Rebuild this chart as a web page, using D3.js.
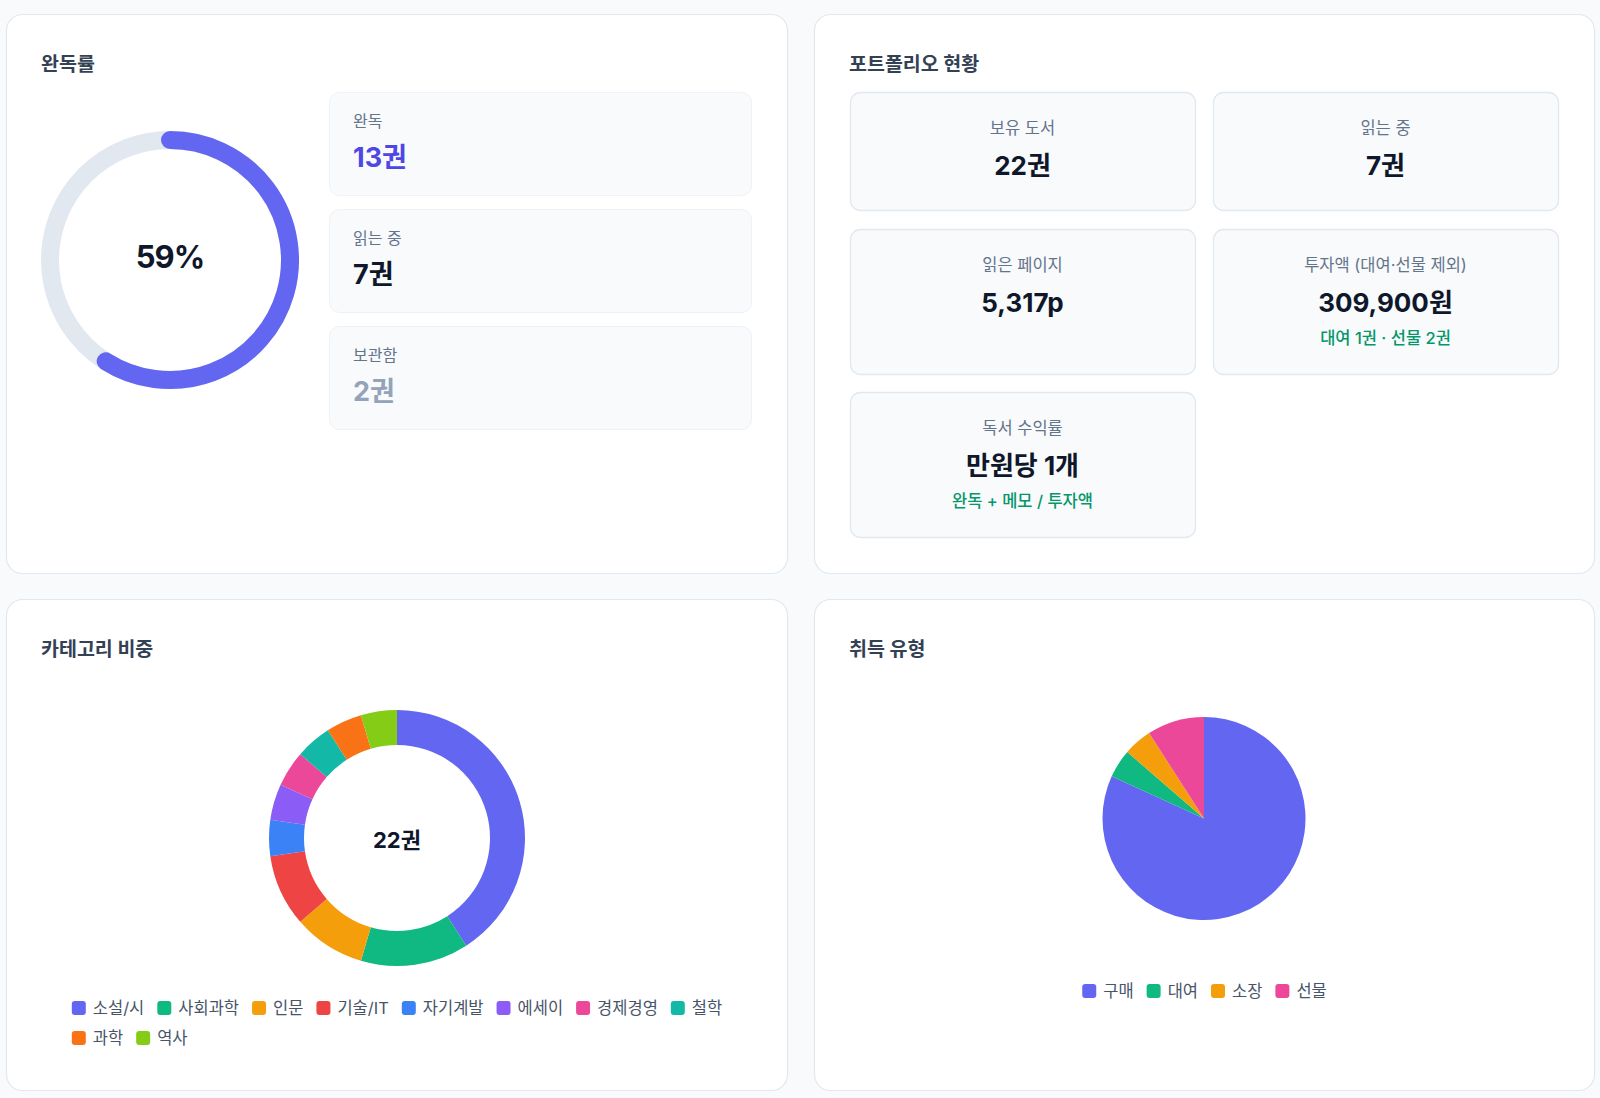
<!DOCTYPE html>
<html lang="ko">
<head>
<meta charset="utf-8">
<script src="https://cdn.jsdelivr.net/npm/d3@7"></script>
<style>
  html, body { margin: 0; padding: 0; background: #f8fafc; }
  svg { display: block; font-family: Inter, "Noto Sans CJK KR", "Noto Sans", sans-serif; }
</style>
</head>
<body>
<div id="dash"></div>
<script>
const W = 1600;
const H = 1098;

// reading status (완독률 card)
const statusLabels = ["완독", "읽는 중", "보관함"];
const statusCounts = [13, 7, 2];
const statusColors = ["#4f46e5", "#0f172a", "#94a3b8"];
const totalBooks = 22;

// portfolio boxes
const portfolioLabels = ["보유 도서", "읽는 중", "읽은 페이지", "투자액 (대여·선물 제외)", "독서 수익률"];
const portfolioValues = ["22권", "7권", "5,317p", "309,900원", "만원당 1개"];
const portfolioNotes = ["", "", "", "대여 1권 · 선물 2권", "완독 + 메모 / 투자액"];

// category share
const categoryNames = ["소설/시", "사회과학", "인문", "기술/IT", "자기계발", "에세이", "경제경영", "철학", "과학", "역사"];
const categoryCounts = [9, 3, 2, 2, 1, 1, 1, 1, 1, 1];
const categoryColors = ["#6366f1", "#10b981", "#f59e0b", "#ef4444", "#3b82f6", "#8b5cf6", "#ec4899", "#14b8a6", "#f97316", "#84cc16"];

// acquisition type
const acquireNames = ["구매", "대여", "소장", "선물"];
const acquireCounts = [18, 1, 1, 2];
const acquireColors = ["#6366f1", "#10b981", "#f59e0b", "#ec4899"];

const svg = d3.select("#dash").append("svg").attr("width", W).attr("height", H);
svg.append("rect").attr("width", W).attr("height", H).attr("fill", "#f8fafc");

// cards
const cards = [
    {x: 6, y: 14, w: 782, h: 560, title: "완독률"},
    {x: 814, y: 14, w: 781, h: 560, title: "포트폴리오 현황"},
    {x: 6, y: 599, w: 782, h: 492, title: "카테고리 비중"},
    {x: 814, y: 599, w: 781, h: 492, title: "취득 유형"}
];

const card = svg.selectAll("g.card")
    .data(cards)
    .enter().append("g")
    .attr("class", "card")
    .attr("transform", d => "translate(" + [d.x, d.y] + ")");

card.append("rect")
    .attr("x", 0.5).attr("y", 0.5)
    .attr("width", d => d.w - 1).attr("height", d => d.h - 1)
    .attr("rx", 16)
    .attr("fill", "#fff")
    .attr("stroke", "#e2e8f0")
    .attr("stroke-width", 1.2);

card.append("text")
    .attr("x", 35).attr("y", 50)
    .attr("dominant-baseline", "central")
    .attr("font-size", 19.5).attr("font-weight", 700)
    .attr("fill", "#334155")
    .text(d => d.title);

// ---- 완독률 gauge
const rate = Math.round(statusCounts[0] / totalBooks * 100);
const angle = d3.scaleLinear().domain([0, 100]).range([-Math.PI / 2, 1.5 * Math.PI]);
const gauge = svg.append("g").attr("transform", "translate(170,260)");

gauge.append("circle")
    .attr("r", 120)
    .attr("fill", "none")
    .attr("stroke", "#e2e8f0")
    .attr("stroke-width", 18);

const p = d3.path();
p.arc(0, 0, 120, angle(0), angle(rate));
gauge.append("path")
    .attr("d", p.toString())
    .attr("fill", "none")
    .attr("stroke", "#6366f1")
    .attr("stroke-width", 18)
    .attr("stroke-linecap", "round");

gauge.append("text")
    .attr("text-anchor", "middle").attr("dominant-baseline", "central")
    .attr("y", -4)
    .attr("font-size", 31).attr("font-weight", 700)
    .attr("letter-spacing", -1)
    .attr("fill", "#0f172a")
    .text(rate + "%");

// status boxes
const statusBox = svg.selectAll("g.status")
    .data(statusLabels)
    .enter().append("g")
    .attr("class", "status")
    .attr("transform", (d, i) => "translate(" + [329, 92 + i * 117] + ")");

statusBox.append("rect")
    .attr("x", 0.5).attr("y", 0.5)
    .attr("width", 422).attr("height", 103)
    .attr("rx", 10)
    .attr("fill", "#f8fafc").attr("stroke", "#eef2f6");
statusBox.append("text")
    .attr("x", 24).attr("y", 29)
    .attr("dominant-baseline", "central")
    .attr("font-size", 16).attr("fill", "#64748b")
    .text(d => d);
statusBox.append("text")
    .attr("x", 24).attr("y", 65)
    .attr("dominant-baseline", "central")
    .attr("font-size", 27).attr("font-weight", 700)
    .attr("fill", (d, i) => statusColors[i])
    .text((d, i) => statusCounts[i] + "권");

// ---- portfolio grid
const cols = [850, 1213];
const rows = [{y: 92, h: 118}, {y: 229, h: 145}, {y: 392, h: 145}];
const pBox = svg.selectAll("g.pbox")
    .data(portfolioLabels)
    .enter().append("g")
    .attr("class", "pbox")
    .attr("transform", (d, i) => "translate(" + [cols[i % 2], rows[Math.floor(i / 2)].y] + ")");

pBox.append("rect")
    .attr("x", 0.5).attr("y", 0.5)
    .attr("width", 345).attr("height", (d, i) => rows[Math.floor(i / 2)].h)
    .attr("rx", 10)
    .attr("fill", "#f8fafc").attr("stroke", "#e2e8f0").attr("stroke-width", 1.3);
pBox.append("text")
    .attr("x", 172.5).attr("y", 36)
    .attr("text-anchor", "middle").attr("dominant-baseline", "central")
    .attr("font-size", 16.5).attr("fill", "#64748b")
    .text(d => d);
pBox.append("text")
    .attr("x", 172.5).attr("y", 73)
    .attr("text-anchor", "middle").attr("dominant-baseline", "central")
    .attr("font-size", 26).attr("font-weight", 700).attr("fill", "#0f172a")
    .text((d, i) => portfolioValues[i]);
pBox.append("text")
    .attr("x", 172.5).attr("y", 109)
    .attr("text-anchor", "middle").attr("dominant-baseline", "central")
    .attr("font-size", 16.5).attr("font-weight", 500).attr("fill", "#059669")
    .text((d, i) => portfolioNotes[i]);

// ---- legend helper (wraps, rows start at the same x, first row centered)
function legend(names, colors, cx, y0, maxW) {
    const g = svg.append("g");
    const items = g.selectAll("g").data(names).enter().append("g");
    items.append("rect")
        .attr("width", 14).attr("height", 14).attr("rx", 3)
        .attr("y", -7)
        .attr("fill", (d, i) => colors[i]);
    items.append("text")
        .attr("x", 21)
        .attr("dominant-baseline", "central")
        .attr("font-size", 16.5).attr("fill", "#475569")
        .text(d => d);

    const widths = [];
    items.each(function() { widths.push(21 + d3.select(this).select("text").node().getComputedTextLength()); });

    const lines = [[]];
    let lineW = 0;
    widths.forEach((w, i) => {
        const add = lineW === 0 ? w : lineW + 13 + w;
        if (add > maxW && lineW > 0) { lines.push([i]); lineW = w; }
        else { lines[lines.length - 1].push(i); lineW = add; }
    });
    const firstW = d3.sum(lines[0], i => widths[i]) + (lines[0].length - 1) * 13;
    const x0 = cx - firstW / 2;
    lines.forEach((line, r) => {
        let x = x0;
        line.forEach(i => {
            d3.select(items.nodes()[i]).attr("transform", "translate(" + [x, y0 + r * 30] + ")");
            x += widths[i] + 13;
        });
    });
}

// ---- category donut
const catPie = d3.pie().sort(null).value(d => d);
const catArc = d3.arc().innerRadius(93).outerRadius(128);
const donut = svg.append("g").attr("transform", "translate(397,838)");
donut.selectAll("path")
    .data(catPie(categoryCounts))
    .enter().append("path")
    .attr("d", catArc)
    .attr("fill", (d, i) => categoryColors[i]);
donut.append("text")
    .attr("text-anchor", "middle").attr("dominant-baseline", "central")
    .attr("y", 2)
    .attr("font-size", 22).attr("font-weight", 700).attr("fill", "#0f172a")
    .text(d3.sum(categoryCounts) + "권");
legend(categoryNames, categoryColors, 397, 1008, 690);

// ---- acquisition pie
const acqPie = d3.pie().sort(null).value(d => d);
const acqArc = d3.arc().innerRadius(0).outerRadius(101.5);
const pie = svg.append("g").attr("transform", "translate(1204,818.5)");
pie.selectAll("path")
    .data(acqPie(acquireCounts))
    .enter().append("path")
    .attr("d", acqArc)
    .attr("fill", (d, i) => acquireColors[i]);
legend(acquireNames, acquireColors, 1204.5, 991, 690);
</script>
</body>
</html>
